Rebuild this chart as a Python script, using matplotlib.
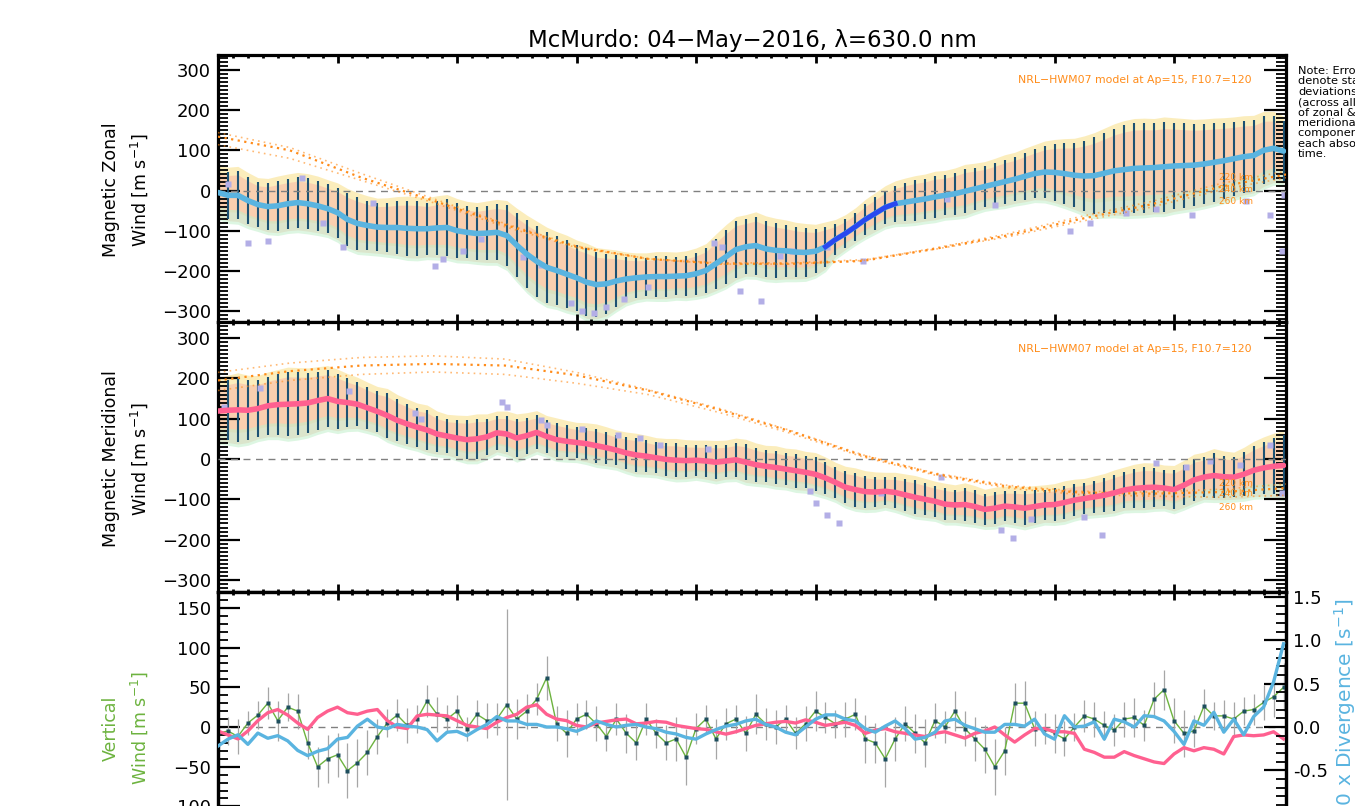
import numpy as np
import matplotlib
matplotlib.use('Agg')
import matplotlib.pyplot as plt
from matplotlib.ticker import MultipleLocator, FormatStrFormatter

plt.rcParams['font.family'] = ['DejaVu Sans']
plt.rcParams['mathtext.fontset'] = 'dejavusans'

# ---------------- data ----------------
step_min = 5  # sample spacing in minutes

zonal_mean = [-5, -12, -12, -25, -35, -40, -38, -33, -30, -33,
              -38, -45, -55, -72, -82, -87, -91, -92, -92, -94,
              -95, -95, -93, -92, -100, -104, -107, -106, -104, -112,
              -136, -158, -176, -191, -199, -208, -217, -228, -234, -232,
              -225, -220, -217, -215, -214, -214, -213, -212, -207, -199,
              -182, -165, -147, -140, -137, -145, -149, -150, -153, -154,
              -151, -140, -122, -107, -90, -72, -57, -42, -33, -29,
              -25, -21, -16, -12, -8, -2, 4, 10, 16, 22,
              28, 35, 42, 46, 45, 42, 38, 36, 37, 43,
              49, 52, 55, 56, 57, 59, 61, 62, 63, 66,
              70, 74, 79, 84, 87, 100, 105, 98]
zonal_err = [55, 58, 60, 58, 55, 58, 62, 62, 63, 63,
             62, 60, 62, 65, 65, 62, 60, 62, 65, 68,
             68, 65, 68, 70, 68, 65, 65, 68, 70, 75,
             80, 85, 88, 88, 85, 85, 82, 85, 80, 75,
             65, 55, 50, 48, 50, 50, 48, 50, 52, 55,
             62, 68, 70, 68, 72, 70, 68, 65, 62, 60,
             55, 50, 38, 35, 35, 38, 40, 42, 45, 48,
             50, 50, 52, 50, 52, 55, 52, 50, 52, 55,
             55, 58, 60, 65, 70, 75, 80, 88, 95, 100,
             105, 110, 112, 112, 110, 112, 108, 105, 102, 100,
             98, 95, 92, 90, 88, 85, 80, 75]
zonal_sparse_idx = [61, 62, 63, 64, 65, 66, 67, 68]

mer_mean = [119, 121, 122, 121, 125, 132, 135, 136, 137, 139,
            145, 150, 143, 140, 136, 127, 118, 108, 96, 87,
            79, 72, 62, 57, 52, 48, 50, 55, 65, 62,
            52, 58, 66, 56, 48, 44, 41, 38, 33, 28,
            22, 15, 10, 7, 3, -1, -3, -4, -3, -5,
            -8, -5, -2, -8, -14, -18, -21, -25, -29, -33,
            -38, -47, -58, -70, -76, -81, -82, -80, -83, -89,
            -95, -100, -105, -112, -114, -113, -118, -125, -122, -117,
            -119, -122, -118, -114, -113, -108, -102, -98, -94, -90,
            -84, -77, -73, -71, -70, -72, -76, -65, -52, -45,
            -41, -44, -45, -38, -28, -22, -18, -16]
mer_err = [70, 75, 80, 75, 70, 72, 75, 80, 78, 75,
           72, 70, 68, 60, 55, 52, 50, 55, 52, 50,
           48, 50, 45, 42, 45, 48, 50, 45, 42, 45,
           48, 45, 42, 40, 42, 40, 38, 40, 42, 40,
           38, 40, 42, 40, 38, 40, 42, 40, 38, 40,
           42, 40, 42, 45, 42, 40, 42, 40, 42, 40,
           42, 40, 38, 40, 42, 40, 38, 35, 38, 40,
           42, 40, 38, 40, 38, 42, 40, 38, 40, 38,
           40, 42, 40, 38, 40, 42, 40, 38, 40, 42,
           45, 45, 48, 50, 48, 45, 48, 50, 52, 50,
           55, 52, 50, 55, 60, 65, 70, 75]

vert_wind = [-8, -5, -12, 5, 15, 30, 8, 25, 20, -20,
             -50, -40, -35, -55, -45, -32, -12, 5, 15, 2,
             10, 33, 16, 10, 20, -2, 16, 8, 10, 28,
             10, 20, 35, 62, 4, -8, 10, 16, 4, -12,
             10, -8, -20, 10, -8, -20, -15, -38, -2, 10,
             -15, 4, 10, -8, 16, 4, 0, 10, -8, 4,
             20, 12, 4, 10, 16, -15, -20, -40, -15, 4,
             -8, -20, 8, 0, 20, -2, -15, -28, -50, -30,
             30, 30, -2, -2, -8, -15, 0, 14, 10, 2,
             -4, 10, 12, 2, 35, 47, 8, -8, -5, 26,
             14, 14, 10, 20, 22, 31, 38, 50]
vert_err = [20, 18, 22, 15, 18, 20, 25, 18, 22, 20,
            25, 30, 28, 35, 30, 28, 22, 18, 20, 22,
            18, 20, 22, 18, 20, 15, 18, 22, 20, 120,
            25, 22, 20, 28, 22, 30, 20, 18, 22, 18,
            20, 25, 22, 20, 18, 22, 28, 35, 20, 18,
            25, 20, 18, 22, 25, 20, 22, 18, 20, 22,
            25, 20, 18, 22, 20, 30, 25, 35, 28, 22,
            25, 30, 22, 20, 25, 22, 28, 30, 35, 30,
            25, 28, 22, 20, 25, 22, 18, 20, 22, 18,
            20, 22, 25, 20, 22, 25, 28, 30, 20, 22,
            18, 20, 22, 18, 20, 22, 25, 30]
vert_pink = [-5, -10, -15, -5, 8, 18, 22, 15, 5, -3,
             12, 20, 25, 18, 16, 20, 22, 8, 0, -2,
             14, 16, 15, 14, 8, 2, 0, -2, 6, 12,
             16, 25, 28, 16, 10, 8, 2, 0, 5, 7,
             9, 10, 4, 5, 7, 6, 2, 0, -2, -3,
             -6, -9, -6, -2, 2, 4, 6, 7, 5, 9,
             6, 2, 4, 6, 2, -8, -4, -2, -6, -8,
             -10, -12, -8, -6, -10, -14, -8, -5, 0, -10,
             -19, -10, -2, -2, -6, -6, -8, -28, -32, -38,
             -38, -31, -36, -40, -44, -46, -34, -26, -30, -26,
             -28, -34, -12, -10, -11, -10, -6, -15]
divergence = [-0.22, -0.14, -0.09, -0.20, -0.07, -0.13, -0.10, -0.16, -0.27, -0.33,
              -0.28, -0.25, -0.14, -0.12, 0.01, 0.09, 0.0, -0.02, 0.03, 0.01,
              0.0, -0.03, -0.16, -0.06, -0.05, -0.10, -0.03, 0.03, 0.12, 0.07,
              0.07, 0.03, 0.03, 0.0, 0.0, -0.02, -0.05, 0.0, 0.07, 0.03,
              0.0, 0.02, 0.03, 0.0, -0.02, -0.06, -0.08, -0.12, -0.14, -0.08,
              -0.03, 0.01, 0.03, 0.07, 0.09, 0.03, 0.0, -0.06, -0.09, 0.0,
              0.09, 0.14, 0.14, 0.09, 0.07, -0.02, -0.06, 0.01, 0.07, -0.02,
              -0.14, -0.12, -0.06, 0.07, 0.09, 0.02, -0.02, -0.06, -0.06, 0.03,
              0.03, 0.01, 0.09, -0.08, -0.14, 0.13, 0.0, 0.01, 0.06, -0.14,
              0.09, 0.06, 0.0, 0.13, 0.12, 0.07, -0.05, -0.20, 0.07, 0.02,
              0.17, -0.06, 0.09, -0.09, 0.12, 0.23, 0.52, 0.96]

zon_sq_t = [0.08, 0.25, 0.42, 0.70, 0.88, 1.05, 1.30, 1.82, 1.88, 2.05,
            2.20, 2.55, 2.70, 2.95, 3.05, 3.15, 3.25, 3.40, 3.60, 4.15,
            4.22, 4.37, 4.54, 4.70, 4.80, 5.10, 5.40, 6.10, 6.50, 7.13,
            7.30, 7.60, 7.85, 8.15, 8.60, 8.80, 8.90, 8.92]
zon_sq_v = [15, -130, -125, 30, -80, -140, -30, -187, -170, -150,
            -120, -165, -185, -280, -300, -305, -290, -270, -240, -130,
            -140, -250, -275, -162, -150, -140, -175, -20, -35, -100,
            -80, -55, -45, -60, -25, -62, -150, -10]
mer_sq_t = [0.05, 0.35, 1.10, 1.65, 1.70, 2.38, 2.42, 2.70, 2.75, 3.05,
            3.35, 3.53, 3.70, 4.10, 4.95, 5.00, 5.10, 5.20, 5.55, 6.05,
            6.55, 6.65, 6.80, 7.25, 7.40, 7.85, 8.10, 8.30, 8.55, 8.80, 8.90]
mer_sq_v = [130, 175, 170, 114, 100, 141, 130, 97, 85, 75,
            60, 52, 35, 25, -80, -110, -140, -160, -85, -45,
            -175, -195, -150, -145, -188, -10, -20, -5, -15, 35, -85]

model_t = [0, 0.6, 1.2, 1.8, 2.4, 3.0, 3.6, 4.2, 4.8, 5.4, 6.0, 6.6, 7.2, 7.8, 8.4, 8.94]
zon_220 = [144, 107, 42, -20, -82, -138, -170, -183, -183, -174, -143, -108, -66, -28, 18, 48]
zon_240 = [134, 100, 32, -25, -85, -140, -170, -182, -182, -175, -145, -112, -72, -35, 10, 40]
zon_260 = [114, 80, 25, -30, -90, -142, -170, -180, -180, -172, -146, -116, -78, -42, 2, 32]
mer_220 = [215, 238, 252, 256, 248, 215, 172, 125, 70, 10, -35, -65, -80, -82, -75, -62]
mer_240 = [195, 218, 232, 236, 232, 208, 170, 122, 68, 8, -37, -68, -83, -86, -82, -72]
mer_260 = [170, 195, 210, 216, 210, 188, 160, 115, 63, 5, -40, -72, -88, -92, -95, -90]
alt_labels = ['220 km', '240 km', '260 km']

title = 'McMurdo: 04\u2212May\u22122016, \u03bb=630.0 nm'
model_note = 'NRL\u2212HWM07 model at Ap=15, F10.7=120'
note_lines = ['Note: Error bars', 'denote standard', 'deviations', '(across all',
              'of zonal &', 'meridional', 'components at', 'each absolute', 'time.']

# ---------------- figure ----------------
W, H = 1355, 806
fig = plt.figure(figsize=(W / 100, H / 100), dpi=100)
X0, X1 = 218, 1286
XMAX = (X1 - X0) / 119.5


def px_axes(top, bottom):
    return fig.add_axes([X0 / W, (H - bottom) / H, (X1 - X0) / W, (bottom - top) / H])


def style(ax, ymaj, ymin, right=True):
    for s in ax.spines.values():
        s.set_linewidth(2.3)
    ax.set_xlim(0, XMAX)
    ax.xaxis.set_major_locator(MultipleLocator(1))
    ax.xaxis.set_minor_locator(MultipleLocator(0.125))
    ax.yaxis.set_major_locator(MultipleLocator(ymaj))
    ax.yaxis.set_minor_locator(MultipleLocator(ymin))
    ax.tick_params(axis='x', which='major', direction='in', length=6, width=2,
                   top=True, bottom=True, labelbottom=False)
    ax.tick_params(axis='x', which='minor', direction='in', length=2.5, width=2,
                   top=True, bottom=True)
    ax.tick_params(axis='y', which='major', direction='in', length=16, width=1.6,
                   left=True, right=right, labelsize=13, pad=5)
    ax.tick_params(axis='y', which='minor', direction='in', length=7.5, width=1.3,
                   left=True, right=right)


t = np.arange(len(zonal_mean)) * step_min / 60.0
ORANGE = '#ff8c1a'
BAR = '#1d5273'


def wind_panel(ax, mean, err, sq_t, sq_v, m1, m2, m3, line_color, ylim):
    mean = np.array(mean, float)
    err = np.array(err, float)
    ax.fill_between(t, mean - 0.7 * err, mean + err + 12, color='#fbe9ac', alpha=0.8, lw=0, zorder=1)
    ax.fill_between(t, mean - err - 5, mean + 0.85 * err, color='#f9b8a6', alpha=0.55, lw=0, zorder=1.1)
    ax.fill_between(t, mean - err - 12, mean - 0.6 * err, color='#c2f0cb', alpha=0.55, lw=0, zorder=1.2)
    ax.vlines(t, mean - err, mean + err, color=BAR, lw=1.5, zorder=2)
    ax.plot(sq_t, sq_v, 's', color='#b3aee6', ms=5, mec='none', zorder=2.5)
    ax.axhline(0, color='#808080', ls=(0, (5, 4)), lw=1.0, zorder=2.6)
    ax.plot(model_t, m1, color=ORANGE, ls=(0, (1, 2.5)), lw=1.2, alpha=0.6, zorder=3)
    ax.plot(model_t, m2, color=ORANGE, ls=(0, (1, 2)), lw=1.6, alpha=1.0, zorder=3)
    ax.plot(model_t, m3, color=ORANGE, ls=(0, (1, 2.5)), lw=1.2, alpha=0.6, zorder=3)
    ax.plot(t, mean, color=line_color, lw=4, solid_capstyle='round', zorder=5)
    ax.set_ylim(*ylim)
    style(ax, 100, 10)
    return mean


ax1 = px_axes(55, 322)
zm = wind_panel(ax1, zonal_mean, zonal_err, zon_sq_t, zon_sq_v, zon_220, zon_240, zon_260,
                '#5ab4e0', (-327, 337))
idx = np.array(zonal_sparse_idx)
ax1.plot(t[idx], zm[idx], color='#2a48f0', lw=3.5, zorder=6)

ax2 = px_axes(322, 592)
wind_panel(ax2, mer_mean, mer_err, mer_sq_t, mer_sq_v, mer_220, mer_240, mer_260,
           '#ff6090', (-330, 340))

ax3 = px_axes(592, 862)
vw = np.array(vert_wind, float)
ve = np.array(vert_err, float)
ax3.axhline(0, color='#808080', ls=(0, (5, 4)), lw=1.0, zorder=1)
ax3.vlines(t, vw - ve, vw + ve, color='#a6a6a6', lw=0.9, zorder=2)
ax3.plot(t, vw, color='#6db33f', lw=1.0, zorder=3)
ax3.plot(t, vw, 's', color='#1e4f5e', ms=2.6, mec='none', zorder=4)
ax3.plot(t, vert_pink, color='#ff6090', lw=2.4, zorder=5)
ax3.set_ylim(-170, 170)
style(ax3, 50, 10, right=False)

axr = ax3.twinx()
axr.plot(t, divergence, color='#5ab4e0', lw=2.4, zorder=6)
axr.set_ylim(-1.557, 1.557)
axr.set_xlim(0, XMAX)
for s in axr.spines.values():
    s.set_linewidth(2.3)
axr.yaxis.set_major_locator(MultipleLocator(0.5))
axr.yaxis.set_minor_locator(MultipleLocator(0.1))
axr.yaxis.set_major_formatter(FormatStrFormatter('%.1f'))
axr.tick_params(axis='y', which='major', direction='in', length=16, width=1.6,
                labelsize=13, pad=5)
axr.tick_params(axis='y', which='minor', direction='in', length=7.5, width=1.3)

# ---------------- texts ----------------
fig.text(752 / W, 1 - 40 / H, title, ha='center', va='center', fontsize=16.5)


def ylab(xc, yc, txt, color='black'):
    fig.text(xc / W, 1 - yc / H, txt, rotation=90, ha='center', va='center',
             fontsize=12.5, linespacing=1.45, color=color)


ylab(126, 190, 'Magnetic Zonal\nWind [m s$^{-1}$]')
ylab(126, 459, 'Magnetic Meridional\nWind [m s$^{-1}$]')
ylab(126, 728, 'Vertical\nWind [m s$^{-1}$]', color='#6db33f')
fig.text(1345 / W, 1 - 708 / H, '10 x Divergence [s$^{-1}$]', rotation=90, ha='center',
         va='center', fontsize=14.5, color='#5ab4e0')

for yy in (80, 349):
    fig.text(1252 / W, 1 - yy / H, model_note, ha='right', va='center', fontsize=7.8, color=ORANGE)
for lab, yy in zip(alt_labels, (178, 190, 202)):
    fig.text(1236 / W, 1 - yy / H, lab, ha='center', va='center', fontsize=6.5, color=ORANGE)
for lab, yy in zip(alt_labels, (483, 494, 507)):
    fig.text(1236 / W, 1 - yy / H, lab, ha='center', va='center', fontsize=6.5, color=ORANGE)

fig.text(1298 / W, 1 - 66 / H, '\n'.join(note_lines), ha='left', va='top', fontsize=8.2,
         linespacing=1.05)

fig.savefig('out.png', dpi=100)
